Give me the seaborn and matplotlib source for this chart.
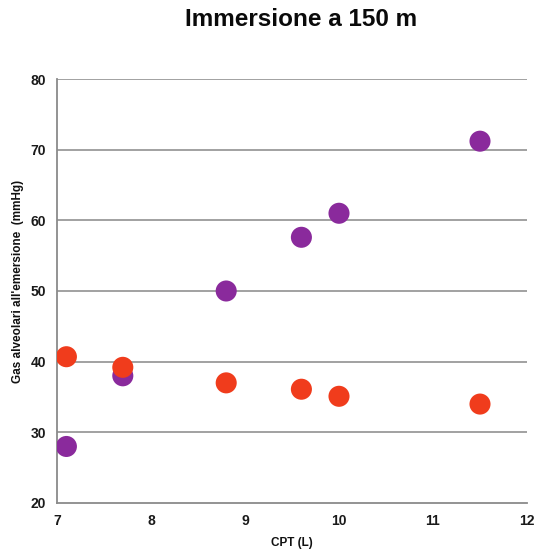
import matplotlib
matplotlib.use("Agg")
import matplotlib.pyplot as plt
import seaborn as sns
import pandas as pd

cpt = [7.1, 7.7, 8.8, 9.6, 10.0, 11.5]
gas_purple = [28.0, 38.0, 50.0, 57.6, 61.0, 71.2]
gas_orange = [40.7, 39.2, 37.0, 36.1, 35.1, 34.0]
x_ticks = [7, 8, 9, 10, 11, 12]
y_ticks = [20, 30, 40, 50, 60, 70, 80]

sns.set_style("white")
plt.rcParams['font.family'] = ['Liberation Sans', 'DejaVu Sans']

df_p = pd.DataFrame({"cpt": cpt, "gas": gas_purple})
df_o = pd.DataFrame({"cpt": cpt, "gas": gas_orange})

fig = plt.figure(figsize=(5.34, 5.51), dpi=100)
ax = fig.add_axes([57/534, 1-503/551, 470/534, 424/551])

for y in y_ticks[1:]:
    ax.axhline(y, color="#9a9a9a", lw=1.3, zorder=1)

sns.scatterplot(data=df_p, x="cpt", y="gas", color="#8a2a9c", s=230,
                edgecolor="none", ax=ax, zorder=3)
sns.scatterplot(data=df_o, x="cpt", y="gas", color="#f03c1c", s=230,
                edgecolor="none", ax=ax, zorder=4)

ax.set_xlim(7, 12)
ax.set_ylim(20, 80)
ax.set_xticks(x_ticks)
ax.set_yticks(y_ticks)
ax.set_xticklabels([str(v) for v in x_ticks], fontsize=10, fontweight="bold", color="#1a1a1a")
ax.set_yticklabels([str(v) for v in y_ticks], fontsize=10, fontweight="bold", color="#1a1a1a")
ax.tick_params(axis="both", direction="out", length=4, width=1, color="#8a8a8a", pad=4)

for s in ["top", "right"]:
    ax.spines[s].set_visible(False)
for s in ["left", "bottom"]:
    ax.spines[s].set_color("#8a8a8a")
    ax.spines[s].set_linewidth(1.3)

ax.set_xlabel("CPT (L)", fontsize=8.5, fontweight="bold", color="#111111")
ax.set_ylabel("Gas alveolari all'emersione  (mmHg)", fontsize=8.5, fontweight="bold", color="#111111")
ax.xaxis.set_label_coords(0.5, (503-543)/424)
ax.yaxis.set_label_coords((18-57)/470, (503-281)/424)
ax.xaxis.label.set_va("center")
ax.yaxis.label.set_va("center")
fig.text(301/534, 1-20/551, "Immersione a 150 m", fontsize=17.5, fontweight="bold",
         ha="center", va="center", color="#0a0a0a")

fig.savefig("out.png", dpi=100, facecolor="white")
